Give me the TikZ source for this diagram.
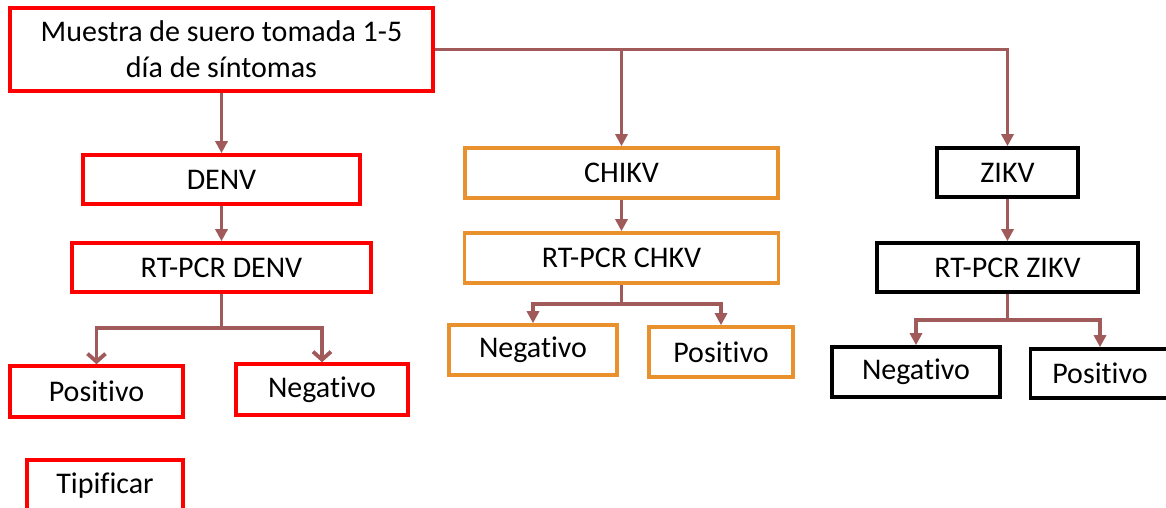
\documentclass[tikz,border=0pt]{standalone}
\usepackage{fontspec}
\setmainfont{Carlito}[Ligatures=NoCommon]
\usetikzlibrary{arrows.meta}
\definecolor{myred}{HTML}{FF0000}
\definecolor{myorange}{HTML}{E8912D}
\definecolor{mybrown}{HTML}{A05A5A}

\tikzset{
	box/.style={draw, line width=1.8pt, rectangle, inner sep=0pt, align=center, font=\fontsize{15}{18}\selectfont},
	redbox/.style={box, draw=myred},
	orangebox/.style={box, draw=myorange},
	blackbox/.style={box, draw=black},
	arr/.style={draw=mybrown, line width=1.9pt, -{Triangle[length=6pt,width=6pt]}},
	barb/.style={draw=mybrown, line width=1.9pt, -{Straight Barb[length=4pt,width=9pt,line width=1.9pt]}}
}

\begin{document}
\begin{tikzpicture}[x=0.5pt, y=-0.5pt]
	\clip (0,0) rectangle (1166,508);

	\node[redbox, minimum width=211.5pt, minimum height=41.5pt] (top) at (221.5,49.5) {Muestra de suero tomada 1-5\\día de síntomas};

	% DENV
	\node[redbox, minimum width=138.5pt, minimum height=24.5pt] (denv) at (221.5,179.5) {DENV};
	\node[redbox, minimum width=149.5pt, minimum height=24.5pt] (rtd) at (221.5,267.5) {RT-PCR DENV};
	\node[redbox, minimum width=86.5pt, minimum height=25.5pt] (posd) at (96.5,391.5) {Positivo};
	\node[redbox, minimum width=86pt, minimum height=25.5pt] (negd) at (322,389.5) {Negativo};
	\node[redbox, minimum width=78pt, minimum height=26pt] (tip) at (105,486) {Tipificar};

	% CHIKV
	\node[orangebox, minimum width=156.5pt, minimum height=25pt] (chikv) at (621.5,173) {CHIKV};
	\node[orangebox, minimum width=157pt, minimum height=25pt] (rtc) at (621.5,258) {RT-PCR CHKV};
	\node[orangebox, minimum width=84pt, minimum height=25pt] (negc) at (533,350) {Negativo};
	\node[orangebox, minimum width=72pt, minimum height=25pt] (posc) at (721,352) {Positivo};

	% ZIKV
	\node[blackbox, minimum width=70.5pt, minimum height=24.5pt] (zikv) at (1007.5,172.5) {ZIKV};
	\node[blackbox, minimum width=130.5pt, minimum height=24.5pt] (rtz) at (1007.5,267.5) {RT-PCR ZIKV};
	\node[blackbox, minimum width=84pt, minimum height=25pt] (negz) at (916,372) {Negativo};
	\node[blackbox, minimum width=69.5pt, minimum height=24.5pt] (posz) at (1100,373.5) {Positivo};

	\coordinate (brd) at (221.5,328);
	\coordinate (brc) at (621.5,304);
	\coordinate (brz) at (1007.5,320);

	\draw[arr] (top.south) -- (denv.north);
	\draw[arr] (top.east) -| (chikv.north);
	\draw[arr] (top.east) -| (zikv.north);

	\draw[arr] (denv.south) -- (rtd.north);
	\draw[barb] (rtd.south) -- (brd) -| (posd.north);
	\draw[barb] (brd) -| (negd.north);

	\draw[arr] (chikv.south) -- (rtc.north);
	\draw[arr] (rtc.south) -- (brc) -| (negc.north);
	\draw[arr] (brc) -| (posc.north);

	\draw[arr] (zikv.south) -- (rtz.north);
	\draw[arr] (rtz.south) -- (brz) -| (negz.north);
	\draw[arr] (brz) -| (posz.north);
\end{tikzpicture}
\end{document}
